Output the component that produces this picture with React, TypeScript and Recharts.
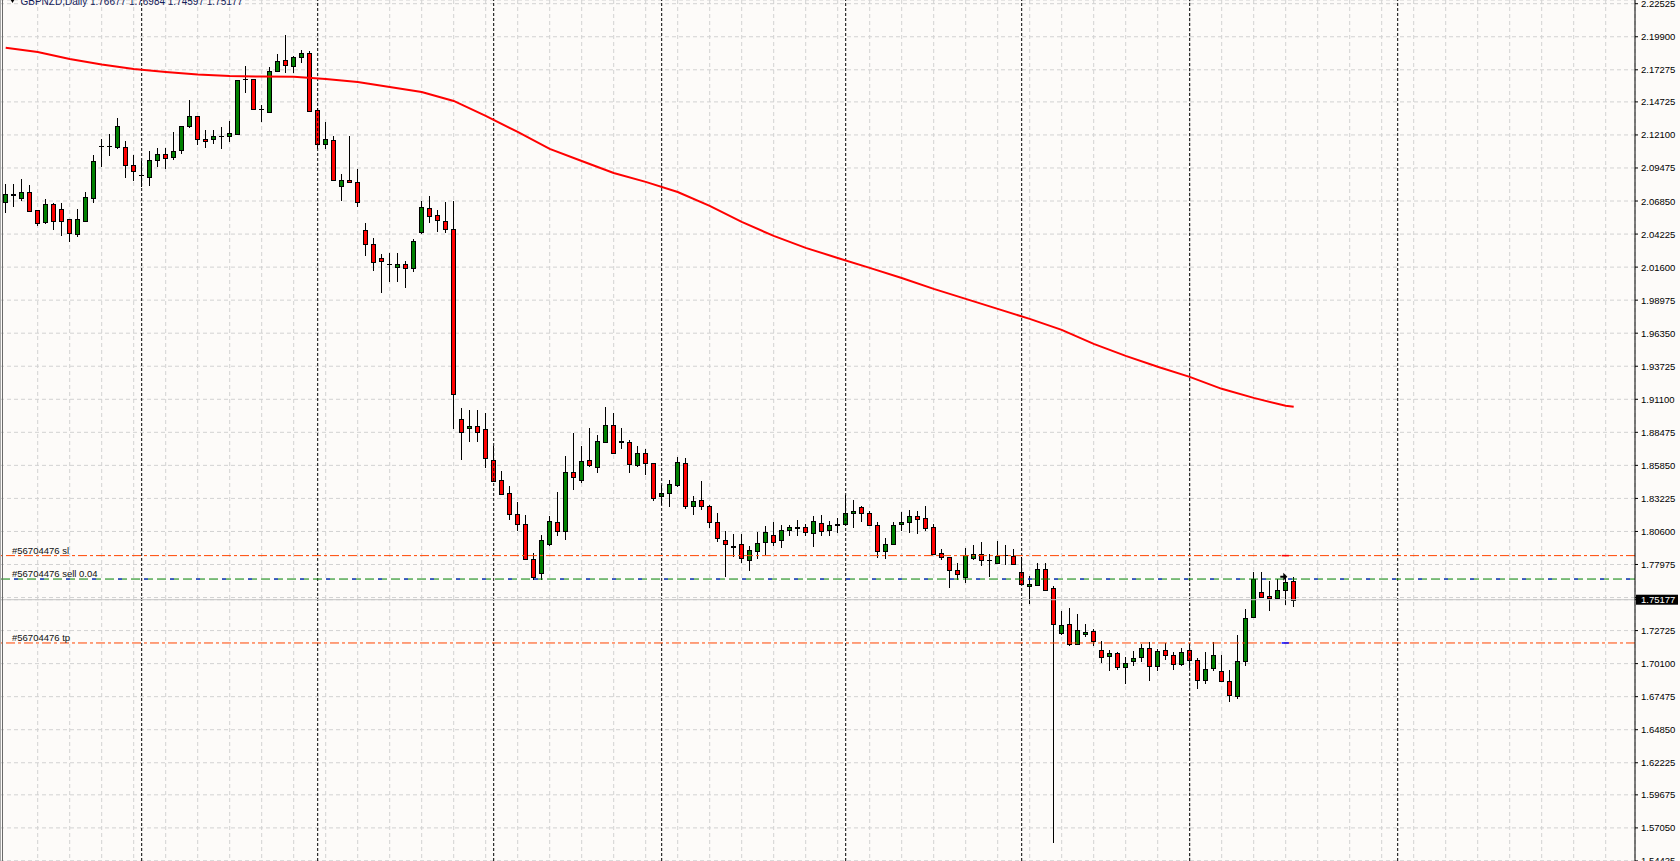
import React from 'react'
import {
  ComposedChart,
  Bar,
  Line,
  XAxis,
  YAxis,
  CartesianGrid,
  ReferenceLine,
  ReferenceDot,
} from 'recharts'

const symbol = 'GBPNZD'
const period = 'Daily'

// daily bars, oldest first
const opens = [
  2.068, 2.0737, 2.0707, 2.0755, 2.0612, 2.0516, 2.0662, 2.0622, 2.0543, 2.0422,
  2.0527, 2.0712, 2.1121, 2.1124, 2.1117, 2.1112, 2.0969, 2.0893, 2.0879, 2.1009,
  2.1057, 2.1038, 2.1088, 2.1279, 2.1358, 2.1178, 2.1176, 2.1203, 2.1199, 2.1215,
  2.1655, 2.1652, 2.142, 2.1395, 2.1716, 2.1803, 2.1755, 2.1827, 2.1863, 2.1406,
  2.1136, 2.1168, 2.0803, 2.085, 2.0834, 2.0456, 2.0342, 2.0231, 2.0184, 2.0164,
  2.0183, 2.0151, 2.0437, 2.0628, 2.0575, 2.0525, 2.0461, 1.8952, 1.8881, 1.8897,
  1.8873, 1.8624, 1.8468, 1.8365, 1.8198, 1.8118, 1.7843, 1.7729, 1.796, 1.8139,
  1.806, 1.8534, 1.8465, 1.8629, 1.8576, 1.8774, 1.8907, 1.8775, 1.877, 1.8584,
  1.8682, 1.8603, 1.8338, 1.8365, 1.8428, 1.8603, 1.8261, 1.8307, 1.8261, 1.8134,
  1.7991, 1.7942, 1.796, 1.7833, 1.7901, 1.7976, 1.8031, 1.7991, 1.8071, 1.809,
  1.8095, 1.8047, 1.8126, 1.8068, 1.8114, 1.8118, 1.8206, 1.8253, 1.8206, 1.811,
  1.7904, 1.796, 1.8121, 1.8134, 1.8182, 1.8166, 1.8095, 1.7888, 1.7856, 1.7753,
  1.7698, 1.7849, 1.788, 1.7834, 1.7809, 1.7872, 1.7864, 1.7737, 1.7629, 1.7632,
  1.7761, 1.7607, 1.7253, 1.7325, 1.7166, 1.7245, 1.7271, 1.712, 1.707, 1.7094,
  1.6983, 1.7027, 1.7062, 1.7134, 1.6988, 1.7118, 1.7078, 1.7007, 1.7118, 1.7038,
  1.688, 1.6975, 1.6951, 1.6872, 1.675, 1.7031, 1.7377, 1.7579, 1.7548, 1.7528,
  1.7593, 1.76677,
]
const highs = [
  2.0818, 2.0821, 2.0861, 2.0813, 2.0614, 2.0702, 2.0672, 2.0672, 2.0543, 2.0622,
  2.0755, 2.1051, 2.1178, 2.1215, 2.1345, 2.1162, 2.1051, 2.1003, 2.1083, 2.1109,
  2.1109, 2.1234, 2.128, 2.1488, 2.1359, 2.1249, 2.1249, 2.1276, 2.1323, 2.1648,
  2.176, 2.1653, 2.1448, 2.1752, 2.1853, 2.2002, 2.1837, 2.1883, 2.1877, 2.1427,
  2.1311, 2.1202, 2.09, 2.1202, 2.0938, 2.0513, 2.039, 2.0265, 2.0275, 2.0275,
  2.0209, 2.0382, 2.0688, 2.0725, 2.0614, 2.0678, 2.0688, 1.904, 1.9026, 1.9026,
  1.9, 1.8735, 1.8542, 1.8423, 1.8293, 1.8192, 1.7888, 1.8034, 1.8179, 1.8377,
  1.8661, 1.8841, 1.874, 1.8881, 1.8828, 1.9052, 1.9, 1.8878, 1.8788, 1.874,
  1.8714, 1.8604, 1.843, 1.847, 1.8655, 1.8647, 1.8343, 1.846, 1.8267, 1.8206,
  1.806, 1.8041, 1.8041, 1.7941, 1.8052, 1.8105, 1.8137, 1.8113, 1.8113, 1.8153,
  1.8121, 1.8184, 1.8192, 1.8147, 1.8166, 1.8351, 1.8311, 1.8264, 1.8219, 1.8137,
  1.8007, 1.8137, 1.8211, 1.8232, 1.8224, 1.8264, 1.8121, 1.792, 1.7861, 1.7809,
  1.7928, 1.7954, 1.798, 1.7883, 1.7988, 1.7954, 1.792, 1.7861, 1.7704, 1.7809,
  1.7809, 1.7629, 1.7425, 1.7451, 1.7406, 1.7327, 1.7285, 1.7192, 1.712, 1.7104,
  1.7062, 1.7112, 1.7166, 1.7182, 1.7126, 1.7174, 1.7102, 1.7134, 1.7174, 1.7054,
  1.7102, 1.7182, 1.7081, 1.6962, 1.7239, 1.7444, 1.7734, 1.774, 1.7663, 1.7679,
  1.7696, 1.76984,
]
const lows = [
  2.0593, 2.0641, 2.0688, 2.0601, 2.049, 2.0503, 2.0456, 2.041, 2.0358, 2.0402,
  2.0516, 2.0672, 2.0958, 2.1043, 2.1096, 2.0871, 2.0847, 2.0795, 2.0807, 2.0958,
  2.0942, 2.1014, 2.1061, 2.1263, 2.113, 2.1109, 2.1141, 2.1099, 2.1152, 2.121,
  2.1546, 2.1408, 2.1315, 2.139, 2.171, 2.1705, 2.17, 2.1784, 2.139, 2.1101,
  2.1099, 2.0845, 2.0688, 2.0826, 2.0641, 2.0249, 2.013, 1.9958, 2.0045, 2.0045,
  1.9997, 2.0124, 2.0421, 2.0509, 2.0442, 2.0429, 1.8873, 1.8624, 1.8767, 1.8767,
  1.8563, 1.8456, 1.8351, 1.8153, 1.806, 1.7835, 1.7676, 1.7676, 1.7941, 1.8026,
  1.7994, 1.8391, 1.8444, 1.8576, 1.8528, 1.8774, 1.8687, 1.8714, 1.8528, 1.8571,
  1.8508, 1.8298, 1.8272, 1.8258, 1.8412, 1.8236, 1.8192, 1.8232, 1.8087, 1.798,
  1.7702, 1.7861, 1.7806, 1.7742, 1.7841, 1.7875, 1.7941, 1.7925, 1.8026, 1.8026,
  1.8026, 1.7933, 1.8026, 1.802, 1.8044, 1.8107, 1.8091, 1.8134, 1.8105, 1.7853,
  1.7841, 1.7954, 1.8065, 1.8047, 1.8039, 1.806, 1.7879, 1.7835, 1.7611, 1.7674,
  1.765, 1.7833, 1.7787, 1.7702, 1.7808, 1.7795, 1.779, 1.7636, 1.7483, 1.7628,
  1.7586, 1.5585, 1.7234, 1.7147, 1.7155, 1.7218, 1.7147, 1.7015, 1.6948, 1.6962,
  1.685, 1.6988, 1.7019, 1.6869, 1.6948, 1.7041, 1.6962, 1.6993, 1.6975, 1.6808,
  1.6848, 1.6954, 1.6871, 1.6702, 1.6727, 1.6988, 1.7369, 1.7538, 1.7425, 1.752,
  1.7472, 1.74597,
]
const closes = [
  2.0741, 2.0735, 2.0755, 2.0609, 2.0511, 2.0662, 2.0524, 2.0524, 2.0429, 2.0543,
  2.0718, 2.1003, 2.1119, 2.1126, 2.1279, 2.0974, 2.0926, 2.0891, 2.1009, 2.1057,
  2.103, 2.1083, 2.1279, 2.1358, 2.1178, 2.116, 2.1199, 2.1205, 2.1223, 2.1647,
  2.1653, 2.1419, 2.1418, 2.1716, 2.1795, 2.1763, 2.1832, 2.1859, 2.1403, 2.1136,
  2.1176, 2.0853, 2.085, 2.0834, 2.0675, 2.0342, 2.0199, 2.0207, 2.0182, 2.0183,
  2.0151, 2.0368, 2.0636, 2.0567, 2.0535, 2.0466, 1.9151, 1.8854, 1.8899, 1.8854,
  1.8643, 1.8457, 1.8359, 1.8198, 1.8118, 1.7843, 1.7702, 1.7994, 1.8145, 1.806,
  1.8534, 1.8489, 1.8621, 1.8584, 1.878, 1.8907, 1.8687, 1.8773, 1.8597, 1.8682,
  1.8603, 1.8325, 1.8365, 1.8438, 1.8611, 1.826, 1.83, 1.8261, 1.8137, 1.8007,
  1.796, 1.794, 1.7853, 1.7914, 1.7968, 1.8055, 1.798, 1.8071, 1.8095, 1.8092,
  1.8055, 1.8142, 1.8065, 1.811, 1.8116, 1.8208, 1.8222, 1.8206, 1.811, 1.7904,
  1.796, 1.811, 1.8137, 1.8182, 1.8158, 1.8087, 1.788, 1.7856, 1.7753, 1.7721,
  1.7872, 1.788, 1.7835, 1.7832, 1.7864, 1.787, 1.7801, 1.7644, 1.7644, 1.7761,
  1.7595, 1.7325, 1.7317, 1.7166, 1.7279, 1.7263, 1.7189, 1.7062, 1.7094, 1.6983,
  1.7017, 1.7054, 1.7134, 1.6988, 1.7112, 1.7078, 1.7007, 1.7102, 1.7041, 1.688,
  1.6967, 1.7078, 1.6872, 1.6761, 1.7031, 1.7372, 1.7682, 1.7539, 1.7528, 1.7595,
  1.7658, 1.75177,
]

// 200 MA, read every 4th bar
const maBars = [
  0, 4, 8, 12, 16, 20, 24, 28, 32, 36, 40, 44, 48, 52, 56, 60, 64, 68, 72, 76, 80,
  84, 88, 92, 96, 100, 104, 108, 112, 116, 120, 124, 128, 132, 136, 140, 144, 148,
  152, 156, 160, 161,
]
const maValues = [
  2.1903, 2.1869, 2.1813, 2.177, 2.1734, 2.171, 2.169, 2.1678, 2.1674, 2.1673, 2.1655,
  2.1631, 2.1591, 2.1551, 2.148, 2.1361, 2.1234, 2.1099, 2.1003, 2.0908, 2.0837,
  2.0757, 2.0646, 2.0519, 2.0408, 2.0313, 2.0233, 2.0154, 2.0074, 1.9987, 1.9908,
  1.9828, 1.9749, 1.9661, 1.955, 1.9455, 1.9368, 1.9288, 1.9193, 1.9121, 1.9058, 1.905,
]

const priceTicks = [
  2.22525, 2.199, 2.17275, 2.14725, 2.121, 2.09475, 2.0685, 2.04225, 2.016, 1.98975,
  1.9635, 1.93725, 1.911, 1.88475, 1.8585, 1.83225, 1.806, 1.77975, 1.7535, 1.72725,
  1.701, 1.67475, 1.6485, 1.62225, 1.59675, 1.5705, 1.54425,
]
const monthStarts = [17, 39, 61, 82, 105, 127, 148, 174]
const gridBars = Array.from({ length: 50 }, (_, k) => 4 + k * 4)

const ticket = '#56704476'
const slPrice = 1.7868
const openPrice = 1.7682
const tpPrice = 1.7174
const lots = '0.04'
const tradeBar = 160

const W = 1680
const H = 861
const BG = '#fdfbf9'
const FONT = '"Liberation Sans", Arial, sans-serif'

const candles = opens.map((open, i) => ({
  i,
  open,
  high: highs[i],
  low: lows[i],
  close: closes[i],
  range: [lows[i], highs[i]],
}))
const maData = maBars.map((i, k) => ({ i, ma: maValues[k] }))
const last = candles[candles.length - 1]

function Candle(props: any) {
  const { x, y, width, height, payload } = props
  if (!payload || height == null) return null
  const { open, high, low, close } = payload
  const top = Math.min(y, y + height)
  const k = Math.abs(height) / (high - low)
  const py = (v: number) => Math.round(top + (high - v) * k)
  const cx = Math.floor(x + width / 2) + 0.5
  const yo = py(open)
  const yc = py(close)
  const bTop = Math.min(yo, yc)
  const bBot = Math.max(yo, yc)
  return (
    <g>
      <line x1={cx} x2={cx} y1={py(high)} y2={py(low)} stroke="#000" strokeWidth={1} />
      {bBot - bTop < 1 ? (
        <line x1={cx - 2.5} x2={cx + 2.5} y1={bTop + 0.5} y2={bTop + 0.5} stroke="#000" strokeWidth={1} />
      ) : (
        <rect
          x={cx - 2}
          y={bTop + 0.5}
          width={4}
          height={bBot - bTop}
          fill={close >= open ? '#008000' : '#ff0000'}
          stroke="#000"
          strokeWidth={1}
        />
      )}
    </g>
  )
}

function PriceTick(props: any) {
  const { x, y, payload } = props
  const v = payload.value
  if (v === last.close) {
    return (
      <g>
        <rect x={x - 5} y={y - 5} width={42} height={10} fill="#000" />
        <text x={x} y={y} dy={3.5} fill="#fff" fontSize={9.5} fontFamily={FONT}>
          {v.toFixed(5)}
        </text>
      </g>
    )
  }
  if (Math.abs(v - last.close) < 0.005) return <g />
  return (
    <text x={x} y={y} dy={3.5} fill="#000" fontSize={9.5} fontFamily={FONT} textAnchor="start">
      {v.toFixed(5)}
    </text>
  )
}

const orderLabel = (text: string) => (p: any) => (
  <text x={p.viewBox.x + 12} y={p.viewBox.y - 2} fontSize={9.5} fontFamily={FONT} fill="#111">
    {text}
  </text>
)

const SellArrow = (p: any) => {
  const { cx, cy } = p
  return (
    <path
      d={`M${cx - 3},${cy - 1} h3 v-3 l4,4 l-4,4 v-3 h-3 z`}
      fill="#000"
    />
  )
}

export default function App() {
  const header = `${symbol},${period}  ${last.open.toFixed(5)} ${last.high.toFixed(5)} ${last.low.toFixed(5)} ${last.close.toFixed(5)}`
  return (
    <div style={{ position: 'absolute', left: 0, top: 0, width: W, height: H, background: BG, overflow: 'hidden' }}>
      <ComposedChart width={W} height={H} data={candles} margin={{ top: 0, right: 0, bottom: 0, left: 0 }}>
        <CartesianGrid stroke="#d2d2d2" strokeDasharray="4 3" />
        <XAxis
          dataKey="i"
          type="number"
          domain={[-0.7125, 203.6625]}
          ticks={gridBars}
          allowDataOverflow
          hide
        />
        <YAxis
          orientation="right"
          domain={[1.5442, 2.2282]}
          ticks={[...priceTicks, last.close]}
          interval={0}
          allowDataOverflow
          width={45}
          axisLine={{ stroke: '#000' }}
          tickLine={{ stroke: '#000' }}
          tickSize={3}
          tickMargin={3}
          tick={<PriceTick />}
        />
        {monthStarts.map((b) => (
          <ReferenceLine key={b} x={b} stroke="#000" strokeDasharray="3 2" />
        ))}
        <ReferenceLine y={last.close} stroke="#c4c4c4" />
        <ReferenceLine y={slPrice} stroke="#ff4500" strokeDasharray="9 3 3 3" label={orderLabel(`${ticket} sl`)} />
        <ReferenceLine
          y={openPrice}
          stroke="#008000"
          strokeDasharray="9 4"
          label={orderLabel(`${ticket} sell ${lots}`)}
        />
        <ReferenceLine y={openPrice} stroke="#0000ff" strokeDasharray="4 22" strokeDashoffset={-5} />
        <ReferenceLine y={tpPrice} stroke="#ff4500" strokeDasharray="9 3 3 3" label={orderLabel(`${ticket} tp`)} />
        <Line
          data={maData}
          dataKey="ma"
          type="linear"
          stroke="#ff0000"
          strokeWidth={2}
          dot={false}
          activeDot={false}
          isAnimationActive={false}
        />
        <Bar dataKey="range" barSize={5} shape={(p: any) => <Candle {...p} />} isAnimationActive={false} />
        <ReferenceLine
          segment={[
            { x: tradeBar - 0.5, y: slPrice },
            { x: tradeBar + 0.4, y: slPrice },
          ]}
          stroke="#ff0000"
          strokeWidth={1.5}
        />
        <ReferenceLine
          segment={[
            { x: tradeBar - 0.5, y: tpPrice },
            { x: tradeBar + 0.4, y: tpPrice },
          ]}
          stroke="#0000ff"
          strokeWidth={1.5}
        />
        <ReferenceDot x={tradeBar - 0.3} y={1.77} r={4} shape={SellArrow} />
      </ComposedChart>
      <svg width={W} height={H} style={{ position: 'absolute', left: 0, top: 0, pointerEvents: 'none' }}>
        <line x1={0.5} x2={0.5} y1={0} y2={H} stroke="#a8a8a8" />
        <line x1={2.5} x2={2.5} y1={0} y2={H} stroke="#6a6a6a" />
        <polygon points="9,-3 16,-3 12.5,3" fill="#000" />
        <text x={20.5} y={4.5} fontSize={10} fontFamily={FONT} fill="#13205a">
          {header}
        </text>
      </svg>
    </div>
  )
}
